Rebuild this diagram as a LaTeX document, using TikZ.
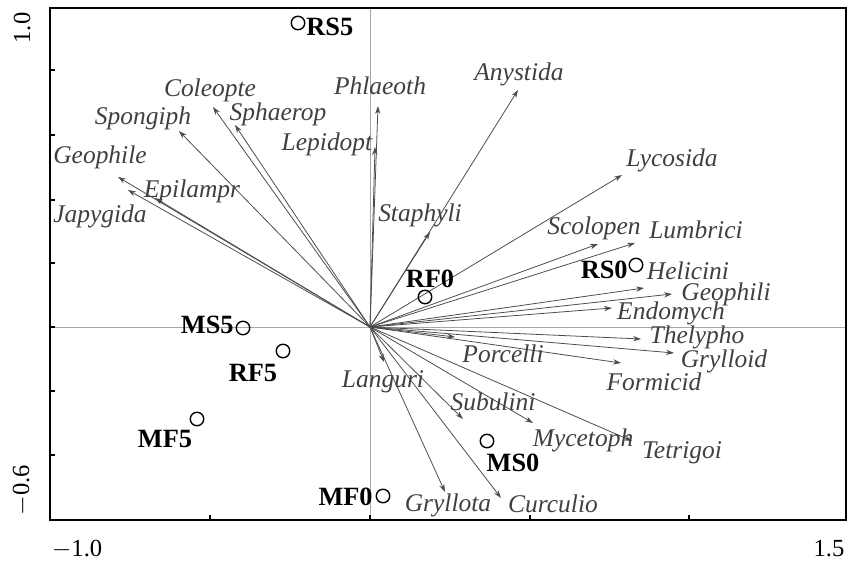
\documentclass[tikz,border=0pt]{standalone}
\usepackage{fontspec}
\setmainfont{Liberation Serif}
\usetikzlibrary{arrows.meta}
\begin{document}
\begin{tikzpicture}[x=0.02cm,y=-0.02cm,
  vec/.style={draw=black!70, line width=0.45pt, -{Stealth[length=4.5pt,width=3pt]}},
  sp/.style={font=\fontsize{14.5}{17}\selectfont\itshape, text=black!75, inner sep=0pt},
  site/.style={font=\fontsize{15}{18}\selectfont\bfseries, inner sep=0pt},
  pt/.style={circle, draw, line width=0.8pt, minimum size=0.27cm, inner sep=0pt},
  guide/.style={draw=black!35, line width=0.4pt},
  frame/.style={draw=black, line width=1.1pt},
  tick/.style={draw=black, line width=0.8pt},
  num/.style={font=\fontsize{14}{16}\selectfont, inner sep=0pt}]
\useasboundingbox (0,0) rectangle (848,563);
% frame and guides
\coordinate (fTL) at (50,8);
\coordinate (fBR) at (846,520);
\draw[guide] (50,327) -- (846,327);
\draw[guide] (370,8) -- (370,520);
\draw[frame] (fTL) rectangle (fBR);
\foreach \yy in {70,135,200,263,327,391,455} \draw[tick] (50,\yy) -- (55,\yy);
\foreach \xx in {210,370,530,689} \draw[tick] (\xx,520) -- (\xx,515);
% axis numbers
\node[num, rotate=90] (y1) at (22,28) {1.0};
\node[num, rotate=90] (y2) at (22,490) {$-$0.6};
\node[num] (x1) at (77,549) {$-$1.0};
\node[num] (x2) at (829,549) {1.5};
% origin
\coordinate (o) at (370,327);
% species vectors
\foreach \n/\px/\py in {Coleopte/213/107, Sphaerop/235/125, Spongiph/179/131,
  Phlaeoth/378/106, Lepidopt/375/147, Geophile/118/177, Japygida/128/190,
  Epilampr/155/198, Anystida/518/90, Lycosida/622/175, Staphyli/430/232,
  Scolopen/598/244, Lumbrici/635/243, Helicini/644/288, Geophili/672/294,
  Endomych/612/308, Thelypho/641/339, Grylloid/674/353, Formicid/621/363,
  Porcelli/455/337, Languri/384/362, Subulini/463/419, Mycetoph/533/423,
  Tetrigoi/632/441, Gryllota/445/492, Curculio/501/498}
  {\coordinate (t\n) at (\px,\py); \draw[vec] (o) -- (t\n);}
% species labels
\node[sp] (lColeopte) at (210,90) {Coleopte};
\node[sp] (lSphaerop) at (278,114) {Sphaerop};
\node[sp] (lSpongiph) at (143,118) {Spongiph};
\node[sp] (lPhlaeoth) at (380,86) {Phlaeoth};
\node[sp] (lLepidopt) at (327,144) {Lepidopt};
\node[sp] (lGeophile) at (100,157) {Geophile};
\node[sp] (lEpilampr) at (192,191) {Epilampr};
\node[sp] (lJapygida) at (100,216) {Japygida};
\node[sp] (lAnystida) at (519,74) {Anystida};
\node[sp] (lLycosida) at (672,160) {Lycosida};
\node[sp] (lStaphyli) at (420,215) {Staphyli};
\node[sp] (lScolopen) at (594,228) {Scolopen};
\node[sp] (lLumbrici) at (696,230) {Lumbrici};
\node[sp] (lHelicini) at (688,271) {Helicini};
\node[sp] (lGeophili) at (726,294) {Geophili};
\node[sp] (lEndomych) at (671,313) {Endomych};
\node[sp] (lThelypho) at (697,337) {Thelypho};
\node[sp] (lGrylloid) at (724,361) {Grylloid};
\node[sp] (lFormicid) at (654,382) {Formicid};
\node[sp] (lPorcelli) at (503,354) {Porcelli};
\node[sp] (lLanguri) at (383,382) {Languri};
\node[sp] (lSubulini) at (493,402) {Subulini};
\node[sp] (lMycetoph) at (583,440) {Mycetoph};
\node[sp] (lTetrigoi) at (682,453) {Tetrigoi};
\node[sp] (lGryllota) at (448,505) {Gryllota};
\node[sp] (lCurculio) at (553,504) {Curculio};
% sites
\node[pt] (cRS5) at (298,23) {};
\node[site, anchor=west] (sRS5) at (306,27) {RS5};
\node[pt] (cRF0) at (425,297) {};
\node[site] (sRF0) at (430,279) {RF0};
\node[pt] (cRS0) at (636,265) {};
\node[site, anchor=east] (sRS0) at (628,270) {RS0};
\node[pt] (cMS5) at (243,328) {};
\node[site, anchor=east] (sMS5) at (234,325) {MS5};
\node[pt] (cRF5) at (283,351) {};
\node[site] (sRF5) at (253,373) {RF5};
\node[pt] (cMF5) at (197,419) {};
\node[site] (sMF5) at (165,439) {MF5};
\node[pt] (cMS0) at (487,441) {};
\node[site] (sMS0) at (513,463) {MS0};
\node[pt] (cMF0) at (383,496) {};
\node[site, anchor=east] (sMF0) at (373,497) {MF0};
\end{tikzpicture}
\end{document}
